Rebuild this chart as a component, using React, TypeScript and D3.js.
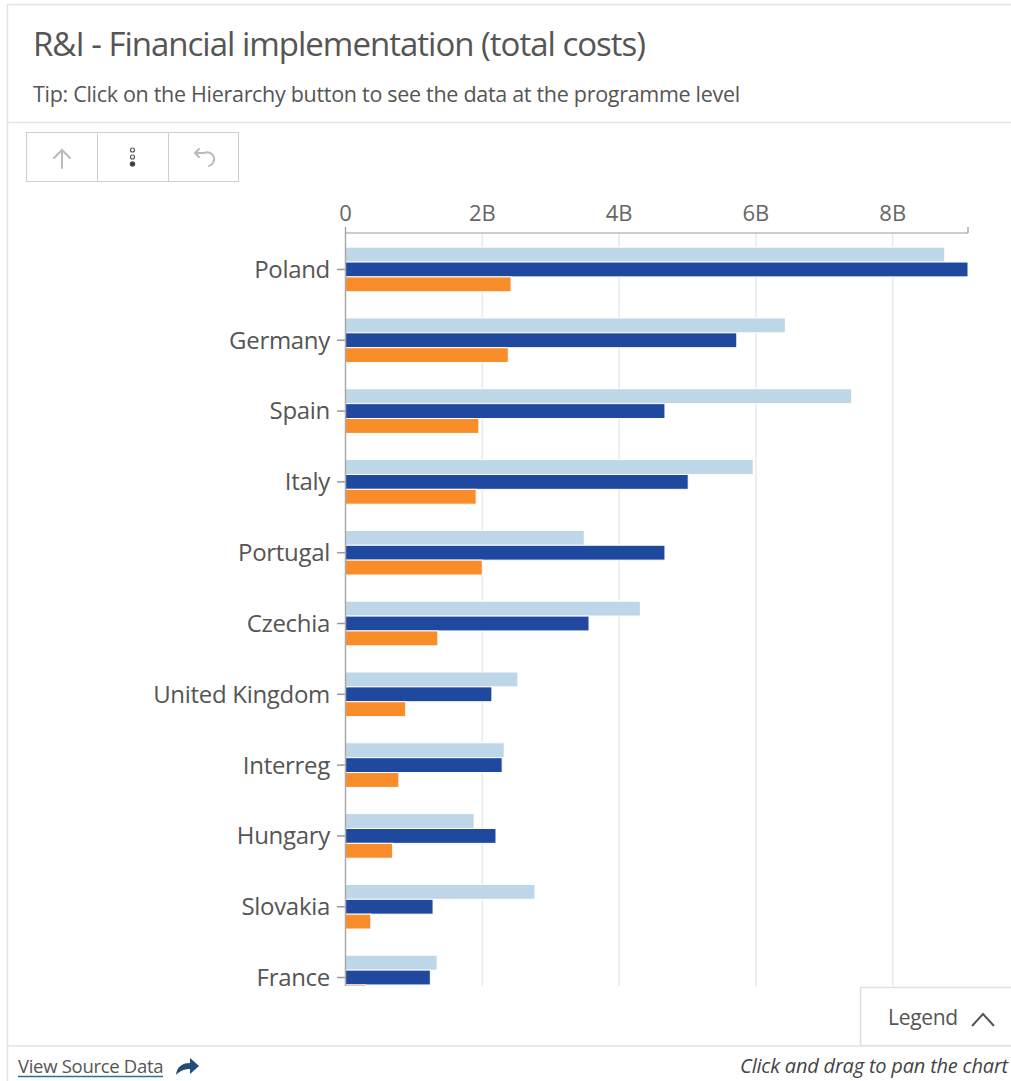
import React from "react";
import * as d3 from "d3";

const categories = ["Poland", "Germany", "Spain", "Italy", "Portugal", "Czechia", "United Kingdom", "Interreg", "Hungary", "Slovakia", "France"];
const seriesNames = ["Planned", "Decided", "Spent"];
const planned = [8.76, 6.43, 7.4, 5.96, 3.49, 4.31, 2.52, 2.32, 1.88, 2.77, 1.34];
const decided = [9.1, 5.72, 4.67, 5.01, 4.67, 3.56, 2.14, 2.29, 2.2, 1.28, 1.24];
const spent = [2.42, 2.38, 1.95, 1.91, 2.0, 1.35, 0.88, 0.78, 0.69, 0.37, 0.3];
const tickValues = [0, 2, 4, 6, 8];
const tickLabels = ["0", "2B", "4B", "6B", "8B"];
const seriesColors = ["#bdd6e8", "#1f499e", "#f98d29"];

const FONT = "'Open Sans', 'Noto Sans', sans-serif";

export default function App() {
  const W = 1011, H = 1081;
  const plotTop = 233, plotBottom = 986, plotLeft = 345.5;
  const maxV = d3.max([...planned, ...decided, ...spent]) as number;
  const x = d3.scaleLinear().domain([0, maxV]).range([plotLeft, 968]);
  const step = 71;
  const y = d3.scaleBand<string>().domain(categories).range([plotTop, plotTop + step * categories.length]).paddingInner(0.37).paddingOuter(0.2);
  const inner = d3.scaleBand<string>().domain(seriesNames).range([0, y.bandwidth()]);
  const series = [planned, decided, spent];

  return (
    <svg width={W} height={H} style={{ position: "absolute", left: 0, top: 0, background: "#fff" }} fontFamily={FONT}>
      <defs>
        <clipPath id="plotclip"><rect x={0} y={0} width={W} height={plotBottom} /></clipPath>
      </defs>
      {/* card frame */}
      <line x1={7.5} y1={4} x2={7.5} y2={H} stroke="#e3e3e3" strokeWidth={1.5} />
      <line x1={7} y1={4.5} x2={W} y2={4.5} stroke="#e3e3e3" strokeWidth={1.5} />
      <line x1={7} y1={122.5} x2={W} y2={122.5} stroke="#e6e6e6" strokeWidth={1.5} />
      <text x={33} y={56} fontSize={33} fill="#555" fontWeight={400} letterSpacing={-1}>R&amp;I - Financial implementation (total costs)</text>
      <text x={33} y={102} fontSize={21.5} fill="#555" letterSpacing={-0.3}>Tip: Click on the Hierarchy button to see the data at the programme level</text>

      {/* toolbar */}
      <rect x={26.5} y={132.5} width={212} height={49} fill="#fff" stroke="#cfcfcf" />
      <line x1={97.5} y1={132.5} x2={97.5} y2={181.5} stroke="#cfcfcf" />
      <line x1={168.5} y1={132.5} x2={168.5} y2={181.5} stroke="#cfcfcf" />
      <g stroke="#bbb" strokeWidth={2} fill="none" strokeLinecap="round">
        <line x1={62} y1={168} x2={62} y2={151} />
        <polyline points="54,158 62,150 70,158" />
      </g>
      <g stroke="#555" strokeWidth={1.2} fill="none">
        <circle cx={132.5} cy={150} r={2} />
        <circle cx={132.5} cy={157} r={2} />
        <circle cx={132.5} cy={164} r={2.2} fill="#333" />
      </g>
      <g stroke="#bbb" strokeWidth={2} fill="none" strokeLinecap="round">
        <path d="M196,153 L204,153 A7,7 0 1 1 209,166" />
        <polyline points="199,149 195,153 199,157" />
      </g>

      <g clipPath="url(#plotclip)">
        {/* gridlines */}
        {tickValues.slice(1).map((t) => (
          <line key={t} x1={x(t)} x2={x(t)} y1={plotTop} y2={plotBottom} stroke="#e9e9e9" strokeWidth={1.5} />
        ))}
        {/* bars */}
        {categories.map((c, i) => (
          <g key={c}>
            {series.map((s, k) => (
              <rect key={k} x={x(0)} y={(y(c) as number) + (inner(seriesNames[k]) as number)} width={x(s[i]) - x(0)} height={inner.bandwidth()} fill={seriesColors[k]} stroke="#fff" strokeWidth={1} />
            ))}
            <line x1={337} x2={plotLeft} y1={(y(c) as number) + y.bandwidth() / 2} y2={(y(c) as number) + y.bandwidth() / 2} stroke="#999" strokeWidth={1.5} />
            <text x={330} y={(y(c) as number) + y.bandwidth() / 2} dy="0.35em" textAnchor="end" fontSize={24} letterSpacing={-0.3} fill="#555">{c}</text>
          </g>
        ))}
        {/* y axis line */}
        <line x1={plotLeft} x2={plotLeft} y1={plotTop} y2={plotBottom} stroke="#aaa" strokeWidth={1.5} />
      </g>

      {/* top x axis */}
      <line x1={plotLeft} x2={x(maxV)} y1={plotTop} y2={plotTop} stroke="#999" strokeWidth={1.2} />
      <line x1={plotLeft} x2={plotLeft} y1={plotTop - 6} y2={plotTop} stroke="#999" strokeWidth={1.2} />
      <line x1={x(maxV)} x2={x(maxV)} y1={plotTop - 6} y2={plotTop} stroke="#999" strokeWidth={1.2} />
      {tickValues.map((t, i) => (
        <text key={t} x={x(t)} y={221} textAnchor="middle" fontSize={22} fill="#666">{tickLabels[i]}</text>
      ))}

      {/* legend box */}
      <rect x={860.5} y={987.5} width={170} height={58} fill="#fff" stroke="#e0e0e0" strokeWidth={1.5} />
      <text x={888} y={1025} fontSize={21} letterSpacing={-0.3} fill="#555">Legend</text>
      <polyline points="972,1026 983,1014 994,1026" fill="none" stroke="#555" strokeWidth={2} />

      {/* footer */}
      <line x1={7} y1={1046} x2={W} y2={1046} stroke="#e3e3e3" strokeWidth={1.5} />
      <text x={18} y={1073} fontSize={18.5} letterSpacing={-0.3} fill="#555">View Source Data</text>
      <line x1={18} x2={163} y1={1076.5} y2={1076.5} stroke="#2a6f97" strokeWidth={1.5} />
      <path d="M176,1075 C177,1066 183,1063 190,1063 L190,1058 L199,1066 L190,1074 L190,1069 C184,1069 180,1071 176,1075 Z" fill="#1f4e79" />
      <text x={1008} y={1073} textAnchor="end" fontSize={20} letterSpacing={-0.2} fill="#444" fontStyle="italic">Click and drag to pan the chart</text>
    </svg>
  );
}
